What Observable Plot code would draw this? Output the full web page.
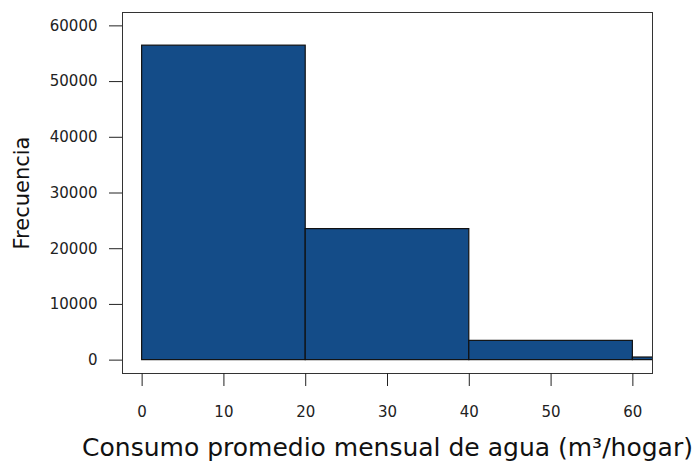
<!DOCTYPE html>
<html>
<head>
<meta charset="utf-8">
<script src="https://cdn.jsdelivr.net/npm/d3@7"></script>
<script src="https://cdn.jsdelivr.net/npm/@observablehq/plot@0.6"></script>
<style>
  html, body { margin: 0; padding: 0; background: #ffffff; }
  #chart svg { display: block; }
</style>
</head>
<body>
<div id="chart"></div>
<script>
// Histogram bins (m3 per household) and household counts
const binEdges = [0, 20, 40, 60, 80];
const counts = [56450, 23520, 3460, 470];

// Axis ticks and titles
const xTicks = [0, 10, 20, 30, 40, 50, 60];
const yTicks = [0, 10000, 20000, 30000, 40000, 50000, 60000];
const xLabel = "Consumo promedio mensual de agua (m³/hogar)";
const yLabel = "Frecuencia";

const bins = counts.map((count, i) => ({x1: binEdges[i], x2: binEdges[i + 1], count}));

const chart = Plot.plot({
  width: 696,
  height: 462,
  marginLeft: 122,
  marginRight: 44,
  marginTop: 12,
  marginBottom: 89,
  style: {fontFamily: "DejaVu Sans", fontSize: "15px", color: "#222", background: "#ffffff"},
  x: {domain: [-2.4, 62.4]},
  y: {domain: [-2400, 62400]},
  marks: [
    Plot.rect(bins, {x1: "x1", x2: "x2", y1: 0, y2: "count", fill: "#144c88", stroke: "#111", strokeWidth: 1.2, clip: true}),
    Plot.frame({stroke: "#333"}),
    Plot.axisX(xTicks, {tickSize: 13, tickPadding: 20, label: null, tickFormat: d3.format("d")}),
    Plot.axisY(yTicks, {tickSize: 13, tickPadding: 12, label: null, tickFormat: d3.format("d")}),
    Plot.text([xLabel], {frameAnchor: "bottom", lineAnchor: "bottom", textAnchor: "middle", dy: 82, fontSize: 25, fill: "#111"}),
    Plot.text([yLabel], {frameAnchor: "left", rotate: -90, textAnchor: "middle", dx: -100, fontSize: 21, fill: "#111"})
  ]
});

document.getElementById("chart").appendChild(chart);
</script>
</body>
</html>
